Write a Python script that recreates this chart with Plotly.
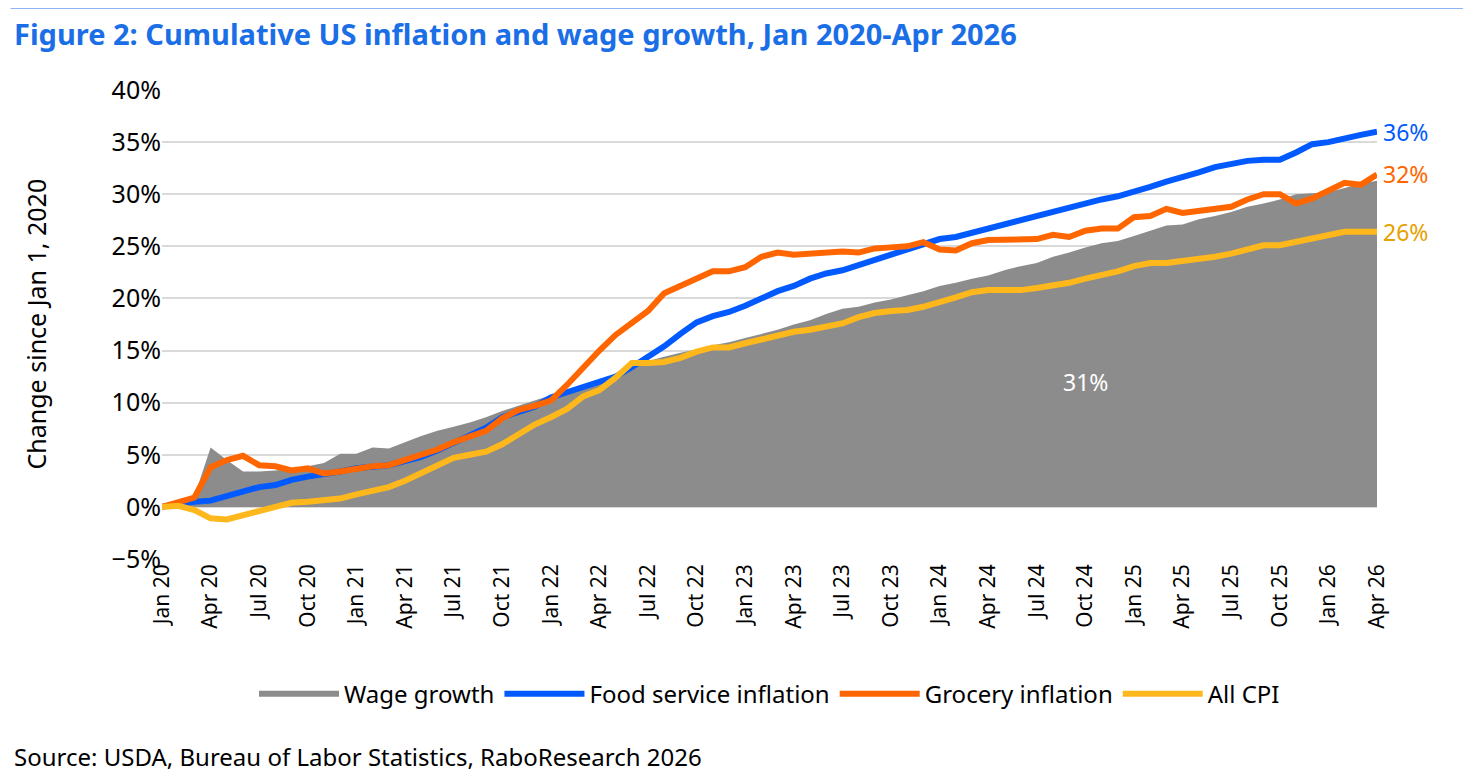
import plotly.graph_objs as go

mon = ['Jan', 'Feb', 'Mar', 'Apr', 'May', 'Jun', 'Jul', 'Aug', 'Sep', 'Oct', 'Nov', 'Dec']
months = [m + ' ' + str(y) for y in range(20, 27) for m in mon][:76]

wage = [0, 0.5, 1, 5.7, 4.5, 3.4, 3.4, 3.5, 3.7, 3.9, 4.2, 5.1,
        5.1, 5.7, 5.6, 6.2, 6.8, 7.3, 7.7, 8.1, 8.6, 9.2, 9.7, 10.2,
        10.7, 11.2, 11.7, 12.2, 12.7, 13.4, 14.0, 14.4, 14.8, 15.1, 15.5, 15.8,
        16.2, 16.6, 17.0, 17.5, 17.9, 18.5, 19.0, 19.2, 19.6, 19.9, 20.3, 20.7,
        21.2, 21.5, 21.9, 22.2, 22.7, 23.1, 23.4, 24.0, 24.4, 24.9, 25.3, 25.5,
        26.0, 26.5, 27.0, 27.1, 27.6, 27.9, 28.3, 28.8, 29.1, 29.5, 30.0, 30.1,
        30.2, 30.6, 31.0, 31.3]
food = [0, 0.3, 0.5, 0.6, 1.0, 1.5, 1.9, 2.1, 2.6, 2.9, 3.1, 3.4,
        3.7, 3.9, 4.0, 4.4, 4.8, 5.4, 6.1, 6.8, 7.6, 8.6, 9.1, 9.6,
        10.5, 11.0, 11.4, 11.9, 12.5, 13.4, 14.4, 15.4, 16.6, 17.7, 18.3, 18.7,
        19.3, 20.0, 20.7, 21.2, 21.9, 22.4, 22.7, 23.2, 23.7, 24.2, 24.7, 25.2,
        25.7, 25.9, 26.3, 26.7, 27.2, 27.6, 27.9, 28.4, 28.7, 29.1, 29.5, 29.8,
        30.2, 30.7, 31.2, 31.6, 32.1, 32.6, 32.9, 33.2, 33.3, 33.3, 34.0, 34.8,
        35.0, 35.4, 35.7, 36.0]
grocery = [0, 0.4, 0.9, 3.8, 4.5, 4.9, 4.0, 3.9, 3.5, 3.7, 3.2, 3.4,
           3.7, 3.9, 4.0, 4.5, 5.0, 5.5, 6.2, 6.8, 7.3, 8.5, 9.3, 9.7,
           10.2, 11.7, 13.4, 15.0, 16.5, 17.7, 18.8, 20.5, 21.2, 21.9, 22.6, 22.6,
           23.0, 24.0, 24.4, 24.2, 24.3, 24.4, 24.5, 24.4, 24.8, 24.9, 25.0, 25.4,
           24.7, 24.6, 25.3, 25.6, 25.6, 25.7, 25.7, 26.1, 25.9, 26.5, 26.7, 26.7,
           27.8, 27.9, 28.6, 28.2, 28.4, 28.7, 28.8, 29.5, 30.0, 30.0, 29.1, 29.6,
           30.4, 31.1, 30.9, 31.9]
cpi = [0, 0.1, -0.3, -1.1, -1.2, -0.8, -0.3, 0.1, 0.4, 0.5, 0.6, 0.8,
       1.2, 1.5, 1.9, 2.5, 3.2, 4.0, 4.7, 5.0, 5.3, 6.0, 7.0, 7.9,
       8.6, 9.4, 10.6, 11.2, 12.4, 13.8, 13.8, 13.9, 14.3, 14.9, 15.3, 15.3,
       15.7, 16.1, 16.4, 16.8, 17.0, 17.3, 17.6, 18.2, 18.6, 18.8, 18.9, 19.2,
       19.6, 20.1, 20.6, 20.8, 20.8, 20.8, 21.0, 21.2, 21.5, 21.9, 22.2, 22.6,
       23.1, 23.4, 23.4, 23.6, 23.7, 24.0, 24.3, 24.7, 25.1, 25.1, 25.4, 25.8,
       26.0, 26.4, 26.4, 26.4]

FONT = 'Noto Sans'
c_wage, c_food, c_groc, c_cpi = '#8c8c8c', '#005aff', '#ff6600', '#ffb81c'

fig = go.Figure()
fig.add_trace(go.Scatter(x=months, y=wage, name='Wage growth', fill='tozeroy', mode='none',
                         fillcolor=c_wage))
fig.add_trace(go.Scatter(x=months, y=food, name='Food service inflation', mode='lines',
                         line=dict(color=c_food, width=6)))
fig.add_trace(go.Scatter(x=months, y=grocery, name='Grocery inflation', mode='lines',
                         line=dict(color=c_groc, width=6)))
fig.add_trace(go.Scatter(x=months, y=cpi, name='All CPI', mode='lines',
                         line=dict(color=c_cpi, width=6)))

# end labels
for val, col in [(food[-1], c_food), (grocery[-1], c_groc), (cpi[-1], '#e6a100')]:
    fig.add_annotation(x=months[-1], y=val, text='%d%%' % round(val), showarrow=False,
                       xanchor='left', xshift=4, font=dict(size=23, color=col, family=FONT))
fig.add_annotation(x=months[57], y=12.0, text='%d%%' % round(wage[-1]), showarrow=False,
                   font=dict(size=23, color='white', family=FONT))

fig.add_annotation(x=0, y=1, xref='paper', yref='paper', xshift=-150, yshift=57,
                   xanchor='left', yanchor='middle', showarrow=False,
                   text='<b>Figure 2: Cumulative US inflation and wage growth, Jan 2020-Apr 2026</b>',
                   font=dict(size=29, color='#1a6ee6', family=FONT))
fig.add_annotation(x=0, y=0, xref='paper', yref='paper', xshift=-150, yshift=-197,
                   xanchor='left', yanchor='middle', showarrow=False,
                   text='Source: USDA, Bureau of Labor Statistics, RaboResearch 2026',
                   font=dict(size=24, color='black', family=FONT))
fig.add_annotation(x=0, y=0.5, xref='paper', yref='paper', xshift=-146, textangle=-90,
                   showarrow=False, text='Change since Jan 1, 2020',
                   font=dict(size=25, color='black', family=FONT))
# blue rule across the top
fig.add_annotation(x=0, y=1, xref='paper', yref='paper', xshift=-152, yshift=84,
                   xanchor='left', yanchor='middle', showarrow=False, text='',
                   width=1450, height=1, bgcolor='#1a6ee6')

fig.update_layout(
    width=1471, height=776,
    margin=dict(l=154, r=102, t=82, b=225),
    paper_bgcolor='white', plot_bgcolor='white',
    font=dict(family=FONT, size=20, color='black'),
    showlegend=True,
    legend=dict(orientation='h', x=0.5, xanchor='center', y=-0.24, yanchor='top',
                font=dict(size=24), itemwidth=80),
    xaxis=dict(type='category', tickvals=months[::3], ticktext=months[::3], tickangle=-90,
               showgrid=False, range=[0, 75], ticks='', tickfont=dict(size=21), automargin=False),
    yaxis=dict(range=[-5, 40], dtick=5, ticksuffix='%', gridcolor='#d9d9d9', gridwidth=2,
               zeroline=False, tickfont=dict(size=25), automargin=False),
)

fig.write_html('out.html')
